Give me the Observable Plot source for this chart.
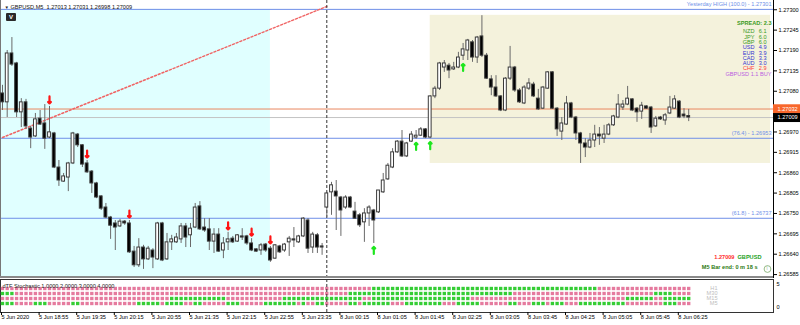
<!DOCTYPE html>
<html><head><meta charset="utf-8">
<script src="https://cdn.jsdelivr.net/npm/d3@7"></script>
<script src="https://cdn.jsdelivr.net/npm/@observablehq/plot@0.6"></script>
<style>
html,body{margin:0;padding:0;background:#fff;}
#chart{position:relative;width:800px;height:325px;overflow:hidden;background:#fff;}
#main,#sub{position:absolute;left:0;}
#main{top:0;} #sub{top:278px;}
.vbox{position:absolute;left:6px;top:13px;width:10px;height:8px;background:#2a2a2a;border-radius:1px;color:#fff;font:bold 6px 'Liberation Sans',Arial,sans-serif;line-height:8px;text-align:center;}
.sep{position:absolute;left:0;top:276px;width:773px;height:2px;background:#8a8a8a;}
</style></head>
<body><div id="chart"><div id="main"></div><div id="sub"></div><div class="sep"></div><div class="vbox">V</div></div>
<script>
// ---- OHLC, GBPUSD M5 (bar index 0 = 5 Jun 18:15) ----
const opens = [
1.27074,1.27050,1.27182,1.27155,1.27023,1.27050,1.26979,1.26958,1.27006,1.26993,
1.26955,1.26966,1.26874,1.26836,1.26847,1.26885,1.26963,1.26934,1.26885,1.26863,
1.26831,1.26796,1.26766,1.26739,1.26723,1.26715,1.26728,1.26723,1.26647,1.26610,
1.26658,1.26626,1.26650,1.26626,1.26723,1.26626,1.26672,1.26672,1.26680,1.26715,
1.26691,1.26712,1.26769,1.26712,1.26707,1.26674,1.26693,1.26650,1.26672,1.26682,
1.26674,1.26688,1.26688,1.26669,1.26653,1.26650,1.26666,1.26655,1.26628,1.26661,
1.26650,1.26672,1.26680,1.26672,1.26688,1.26731,1.26658,1.26691,1.26661,1.26766,
1.26807,1.26809,1.26793,1.26766,1.26793,1.26755,1.26745,1.26726,1.26750,1.26758,
1.26753,1.26807,1.26842,1.26874,1.26915,1.26944,1.26904,1.26944,1.26955,1.26960,
1.26977,1.26955,1.27066,1.27087,1.27144,1.27149,1.27139,1.27144,1.27176,1.27190,
1.27212,1.27171,1.27228,1.27176,1.27112,1.27090,1.27066,1.27028,1.27114,1.27144,
1.27082,1.27047,1.27087,1.27098,1.27060,1.27033,1.27087,1.27131,1.27033,1.26971,
1.26990,1.27047,1.27009,1.26966,1.26939,1.26928,1.26947,1.26963,1.26952,1.26963,
1.26988,1.27009,1.27036,1.27044,1.27058,1.27033,1.27025,1.27039,1.27036,1.26985,
1.27009,1.27001,1.27020,1.27033,1.27052,1.27017,1.27013];
const highs = [
1.27096,1.27190,1.27225,1.27158,1.27060,1.27058,1.26985,1.27020,1.27028,1.27044,
1.27039,1.26969,1.26893,1.26858,1.26888,1.26969,1.26966,1.26936,1.26893,1.26866,
1.26834,1.26798,1.26777,1.26742,1.26731,1.26734,1.26731,1.26731,1.26661,1.26682,
1.26664,1.26661,1.26655,1.26726,1.26726,1.26696,1.26691,1.26696,1.26723,1.26723,
1.26723,1.26777,1.26782,1.26736,1.26736,1.26709,1.26709,1.26685,1.26699,1.26688,
1.26693,1.26709,1.26691,1.26682,1.26655,1.26669,1.26669,1.26661,1.26666,1.26664,
1.26669,1.26688,1.26712,1.26691,1.26739,1.26736,1.26699,1.26696,1.26669,1.26807,
1.26834,1.26839,1.26796,1.26798,1.26796,1.26780,1.26750,1.26763,1.26771,1.26761,
1.26812,1.26858,1.26885,1.26925,1.26947,1.26974,1.26942,1.26971,1.26974,1.26982,
1.26979,1.27068,1.27093,1.27158,1.27163,1.27155,1.27158,1.27185,1.27209,1.27220,
1.27217,1.27228,1.27284,1.27182,1.27122,1.27122,1.27068,1.27117,1.27201,1.27147,
1.27087,1.27095,1.27114,1.27104,1.27085,1.27093,1.27133,1.27133,1.27036,1.27009,
1.27066,1.27050,1.27012,1.26969,1.26952,1.26966,1.26988,1.26982,1.26988,1.26993,
1.27015,1.27071,1.27055,1.27093,1.27060,1.27036,1.27050,1.27041,1.27039,1.27012,
1.27012,1.27020,1.27066,1.27068,1.27055,1.27033,1.27031];
const lows = [
1.27028,1.27009,1.27147,1.27009,1.26982,1.26977,1.26925,1.26955,1.26988,1.26923,
1.26952,1.26871,1.26823,1.26834,1.26809,1.26882,1.26928,1.26874,1.26858,1.26804,
1.26790,1.26758,1.26736,1.26680,1.26650,1.26712,1.26718,1.26642,1.26604,1.26604,
1.26599,1.26623,1.26601,1.26623,1.26620,1.26623,1.26650,1.26669,1.26669,1.26658,
1.26658,1.26709,1.26704,1.26699,1.26650,1.26642,1.26645,1.26628,1.26650,1.26669,
1.26672,1.26677,1.26664,1.26647,1.26645,1.26637,1.26645,1.26618,1.26626,1.26642,
1.26645,1.26634,1.26658,1.26669,1.26685,1.26642,1.26642,1.26642,1.26637,1.26739,
1.26745,1.26704,1.26688,1.26761,1.26763,1.26734,1.26712,1.26672,1.26715,1.26669,
1.26750,1.26804,1.26839,1.26871,1.26912,1.26901,1.26901,1.26942,1.26950,1.26958,
1.26952,1.26952,1.27060,1.27082,1.27131,1.27114,1.27136,1.27141,1.27163,1.27163,
1.27158,1.27155,1.27171,1.27112,1.27068,1.27063,1.27025,1.27025,1.27109,1.27077,
1.27047,1.27044,1.27082,1.27063,1.27028,1.27031,1.27085,1.27031,1.26958,1.26947,
1.26988,1.27006,1.26947,1.26885,1.26901,1.26925,1.26928,1.26934,1.26939,1.26960,
1.26985,1.27006,1.27028,1.27041,1.27025,1.26996,1.27004,1.27031,1.26966,1.26982,
1.27001,1.26988,1.27017,1.27031,1.27006,1.27006,1.26998];
const closes = [
1.27050,1.27182,1.27152,1.27023,1.27050,1.26985,1.26955,1.27004,1.26990,1.26952,
1.26969,1.26874,1.26839,1.26850,1.26885,1.26966,1.26934,1.26882,1.26861,1.26831,
1.26793,1.26763,1.26739,1.26717,1.26712,1.26728,1.26723,1.26645,1.26610,1.26658,
1.26626,1.26655,1.26631,1.26723,1.26623,1.26672,1.26680,1.26685,1.26715,1.26685,
1.26709,1.26766,1.26707,1.26704,1.26674,1.26693,1.26647,1.26669,1.26680,1.26672,
1.26691,1.26685,1.26669,1.26650,1.26647,1.26664,1.26650,1.26623,1.26664,1.26645,
1.26666,1.26682,1.26677,1.26688,1.26736,1.26655,1.26693,1.26658,1.26658,1.26804,
1.26826,1.26796,1.26758,1.26793,1.26766,1.26736,1.26718,1.26750,1.26766,1.26731,
1.26812,1.26839,1.26879,1.26915,1.26944,1.26904,1.26939,1.26963,1.26960,1.26977,
1.26955,1.27066,1.27087,1.27155,1.27155,1.27136,1.27144,1.27171,1.27193,1.27217,
1.27171,1.27225,1.27176,1.27114,1.27090,1.27066,1.27028,1.27114,1.27144,1.27082,
1.27050,1.27090,1.27101,1.27066,1.27031,1.27090,1.27131,1.27033,1.26977,1.26993,
1.27047,1.27009,1.26966,1.26939,1.26928,1.26947,1.26963,1.26958,1.26963,1.26988,
1.27012,1.27044,1.27044,1.27060,1.27028,1.27023,1.27041,1.27033,1.26982,1.27006,
1.27004,1.27015,1.27036,1.27058,1.27009,1.27012,1.27009];

// time axis
const timeTickBars = [0,8,16,24,32,40,48,56,64,72,80,88,96,104,112,120,128,136,144];
const timeLabels = ["5 Jun 2020","5 Jun 18:55","5 Jun 19:35","5 Jun 20:15","5 Jun 20:55","5 Jun 21:35","5 Jun 22:15","5 Jun 22:55","5 Jun 23:35","8 Jun 00:15","8 Jun 01:05","8 Jun 01:45","8 Jun 02:25","8 Jun 03:05","8 Jun 03:45","8 Jun 04:25","8 Jun 05:05","8 Jun 05:45","8 Jun 06:25"];
const daySeparatorBar = 69;

// price axis
const priceTicks = [1.27300,1.27245,1.27190,1.27135,1.27080,1.26970,1.26915,1.26860,1.26805,1.26750,1.26695,1.26640,1.26585];
const askPrice = 1.27032;
const bidPrice = 1.27009;

// objects
const levelNames = ["Yesterday HIGH (100.0)","(76.4)","(61.8)"];
const levelValues = [1.27301,1.26953,1.26737];
const zoneNames = ["yesterday","box"];
const zoneFromBar = [-1,91];
const zoneToBar = [57,163.4];
const zoneTop = [1.27301,1.27285];
const zoneBottom = [1.26560,1.26885];
const trendBars = [0,69];
const trendPrices = [1.26955,1.27309];
const sellSignalBars = [10,18,27,48,53,57];
const buySignalBars = [79,88,91,98];

// info panel
const spreadValue = 2.3;
const strengthCodes = ["NZD","JPY","GBP","USD","EUR","CAD","AUD","CHF"];
const strengthValues = [6.1,6.0,6.0,4.9,3.9,3.3,3.0,2.9];
const pairSignal = "GBPUSD 1.1 BUY";
const barEndText = "M5 Bar end: 0 m 18 s";

// dTF stochastic (runs of green / pink per timeframe row)
const stochRows = ["H1","M30","M15","M5"];
const h1Runs  = [["p",79],["g",48],["p",20]];
const m30Runs = [["g",3],["p",71],["g",35],["p",30],["g",4],["p",4]];
const m15Runs = [["p",36],["g",12],["p",12],["g",17],["p",2],["g",21],["p",33],["g",6],["p",2],["g",6]];
const m5Runs  = [["g",3],["p",4],["g",3],["p",5],["g",2],["p",12],["g",5],["p",1],["g",4],["p",2],["g",2],["p",5],["g",3],["p",5],["g",7],["p",1],["g",1],["p",2],["g",2],["p",5],["g",2],["p",1],["g",6],["p",3],["g",8],["p",3],["g",5],["p",6],["g",2],["p",3],["g",3],["p",1],["g",3],["p",3],["g",10],["p",8],["g",3],["p",3]];

// ---- build tables ----
const bars = opens.map((o,i)=>({i, open:o, high:highs[i], low:lows[i], close:closes[i]}));
const levels = levelNames.map((n,k)=>({name:n, value:levelValues[k]}));
const zones = zoneNames.map((n,k)=>({name:n, x1:zoneFromBar[k], x2:zoneToBar[k], y1:zoneBottom[k], y2:zoneTop[k]}));
const trend = trendBars.map((b,k)=>({i:b, p:trendPrices[k]}));
const cells = [];
[h1Runs,m30Runs,m15Runs,m5Runs].forEach((runs,r)=>{
  let i = 0;
  for (const [s,n] of runs) for (let k=0;k<n;k++) cells.push({i:i++, row:stochRows[r], s});
});

const xDomain = [-0.4255, 164.04];
const yDomain = [1.265744, 1.27325];
const FONT = "'Liberation Sans', Arial, sans-serif";
const blue = "#6f8fe8";
const last = bars[bars.length-1];
const f5 = d3.format(".5f");

const zoneFill = {yesterday:"#e0ffff", box:"#f4f2dc"};
const strengthColor = v => v >= 5.5 ? "#3a9a22" : v >= 3 ? "#3434d0" : "#ff3b3b";

const infoMarks = [
  Plot.text([`SPREAD: ${spreadValue}`], {frameAnchor:"top-right", dx:-2, dy:20.7, textAnchor:"end", fill:"#3a9a22", fontWeight:"bold"}),
  ...strengthCodes.map((c,k)=>Plot.text([c], {frameAnchor:"top-right", dx:-19, dy:29+k*5.27, textAnchor:"end", fill:strengthColor(strengthValues[k])})),
  ...strengthValues.map((v,k)=>Plot.text([v.toFixed(1)], {frameAnchor:"top-right", dx:-7, dy:29+k*5.27, textAnchor:"end", fill:strengthColor(v)})),
  Plot.text([pairSignal], {frameAnchor:"top-right", dx:-2, dy:71.4, textAnchor:"end", fill:"#bb5fe0"})
];

const main = Plot.plot({
  width:800, height:278,
  marginLeft:0, marginRight:27, marginTop:0, marginBottom:0,
  style:{fontFamily:FONT, fontSize:"5.6px", background:"transparent", color:"#000", overflow:"hidden"},
  x:{domain:xDomain, axis:null},
  y:{domain:yDomain},
  marks:[
    Plot.rect(zones, {x1:"x1", x2:"x2", y1:"y1", y2:"y2", fill:d=>zoneFill[d.name], clip:true}),
    Plot.ruleY(levels, {y:"value", stroke:blue, strokeWidth:1}),
    Plot.ruleY([askPrice], {stroke:"#e9875f"}),
    Plot.ruleY([bidPrice], {stroke:"#c4c4c4"}),
    Plot.line(trend, {x:"i", y:"p", stroke:"#f06464", strokeDasharray:"2,2"}),
    Plot.ruleX([daySeparatorBar], {stroke:"#333", strokeDasharray:"3,2"}),
    Plot.ruleX([xDomain[0]], {stroke:"#777"}),
    Plot.ruleX(bars, {x:"i", y1:"low", y2:"high", stroke:"#6a6a6a"}),
    Plot.rect(bars, {x1:d=>d.i-0.3, x2:d=>d.i+0.3, y1:"open", y2:"close",
      fill:d=>d.close>=d.open?"#fff":"#000", stroke:"#3a3a3a", strokeWidth:1}),
    Plot.vector(sellSignalBars, {x:d=>d, y:d=>highs[d], length:7, rotate:180, anchor:"end", dy:-3, stroke:"#ff1414", strokeWidth:2.2}),
    Plot.vector(buySignalBars, {x:d=>d, y:d=>lows[d], length:7, rotate:0, anchor:"end", dy:3.5, stroke:"#1ee61e", strokeWidth:2.2}),
    Plot.text(levels, {y:"value", frameAnchor:"right", dx:-2, text:d=>`${d.name} - ${f5(d.value)}`, textAnchor:"end", fill:blue, dy:-5.5}),
    Plot.text(["\u25BC"], {frameAnchor:"top-left", dx:4, dy:5, fontSize:4.5, fill:"#222"}),
    Plot.text([`GBPUSD,M5  ${f5(last.open)} ${f5(last.high)} ${f5(last.low)} ${f5(last.close)}`], {frameAnchor:"top-left", dx:10, dy:5, textAnchor:"start", fill:"#111"}),
    ...infoMarks,
    Plot.text([f5(last.close)], {frameAnchor:"bottom-right", dx:-39, dy:-19.3, textAnchor:"end", fill:"#ff2a2a", fontWeight:"bold"}),
    Plot.text(["GBPUSD"], {frameAnchor:"bottom-right", dx:-36, dy:-19.3, textAnchor:"start", fill:"#22a022", fontWeight:"bold"}),
    Plot.text([barEndText], {frameAnchor:"bottom-right", dx:-16, dy:-9.7, textAnchor:"end", fill:"#2d7a14", fontWeight:"bold"}),
    Plot.dot([0], {frameAnchor:"bottom-right", dx:-6, dy:-9.5, r:3.4, stroke:"#7aa86a", strokeWidth:0.8, fill:"#fff"}),
    Plot.text(["|"], {frameAnchor:"bottom-right", dx:-6, dy:-10, fontSize:4, fill:"#7aa86a"}),
    Plot.axisY(priceTicks, {anchor:"right", tickFormat:f5, tickSize:3, tickPadding:2, label:null}),
    Plot.ruleX([xDomain[1]], {stroke:"#000"}),
    Plot.ruleY([askPrice], {x1:xDomain[1], x2:xDomain[1]+6, stroke:"#f8672c", strokeWidth:9.5}),
    Plot.ruleY([bidPrice], {x1:xDomain[1], x2:xDomain[1]+6, stroke:"#000", strokeWidth:9}),
    Plot.text([askPrice, bidPrice], {y:d=>d, x:xDomain[1], dx:4, text:f5, textAnchor:"start", fill:"#fff"})
  ]
});
document.getElementById("main").append(main);

const sub = Plot.plot({
  width:800, height:47,
  marginLeft:0, marginRight:27, marginTop:1, marginBottom:13,
  style:{fontFamily:FONT, fontSize:"5.6px", background:"transparent", color:"#000"},
  x:{domain:xDomain, axis:null},
  y:{type:"point", domain:stochRows, range:[7.7,27.7], axis:null},
  marks:[
    Plot.frame({stroke:"#333"}),
    Plot.dot(cells, {x:"i", y:"row", symbol:"square", r:1.9, fill:d=>d.s==="g"?"#34cd34":"#e57a9e"}),
    Plot.ruleX([daySeparatorBar], {stroke:"#333", strokeDasharray:"3,2"}),
    Plot.text(["dTF Stochastic 1.0000 2.0000 3.0000 4.0000"], {frameAnchor:"top-left", dx:2, dy:4.5, textAnchor:"start", fill:"#222"}),
    Plot.text(stochRows, {y:d=>d, frameAnchor:"right", dx:-56, textAnchor:"end", fill:"#bdbdbd"}),
    Plot.text(["5"], {frameAnchor:"top-right", dx:3, dy:3, textAnchor:"start"}),
    Plot.text(["0"], {frameAnchor:"bottom-right", dx:3, dy:-4, textAnchor:"start"}),
    Plot.axisX(timeTickBars, {anchor:"bottom", tickSize:3, tickPadding:0, tickFormat:d=>timeLabels[timeTickBars.indexOf(d)], textAnchor:"start", dx:-1, label:null})
  ]
});
document.getElementById("sub").append(sub);
</script>
</body></html>
